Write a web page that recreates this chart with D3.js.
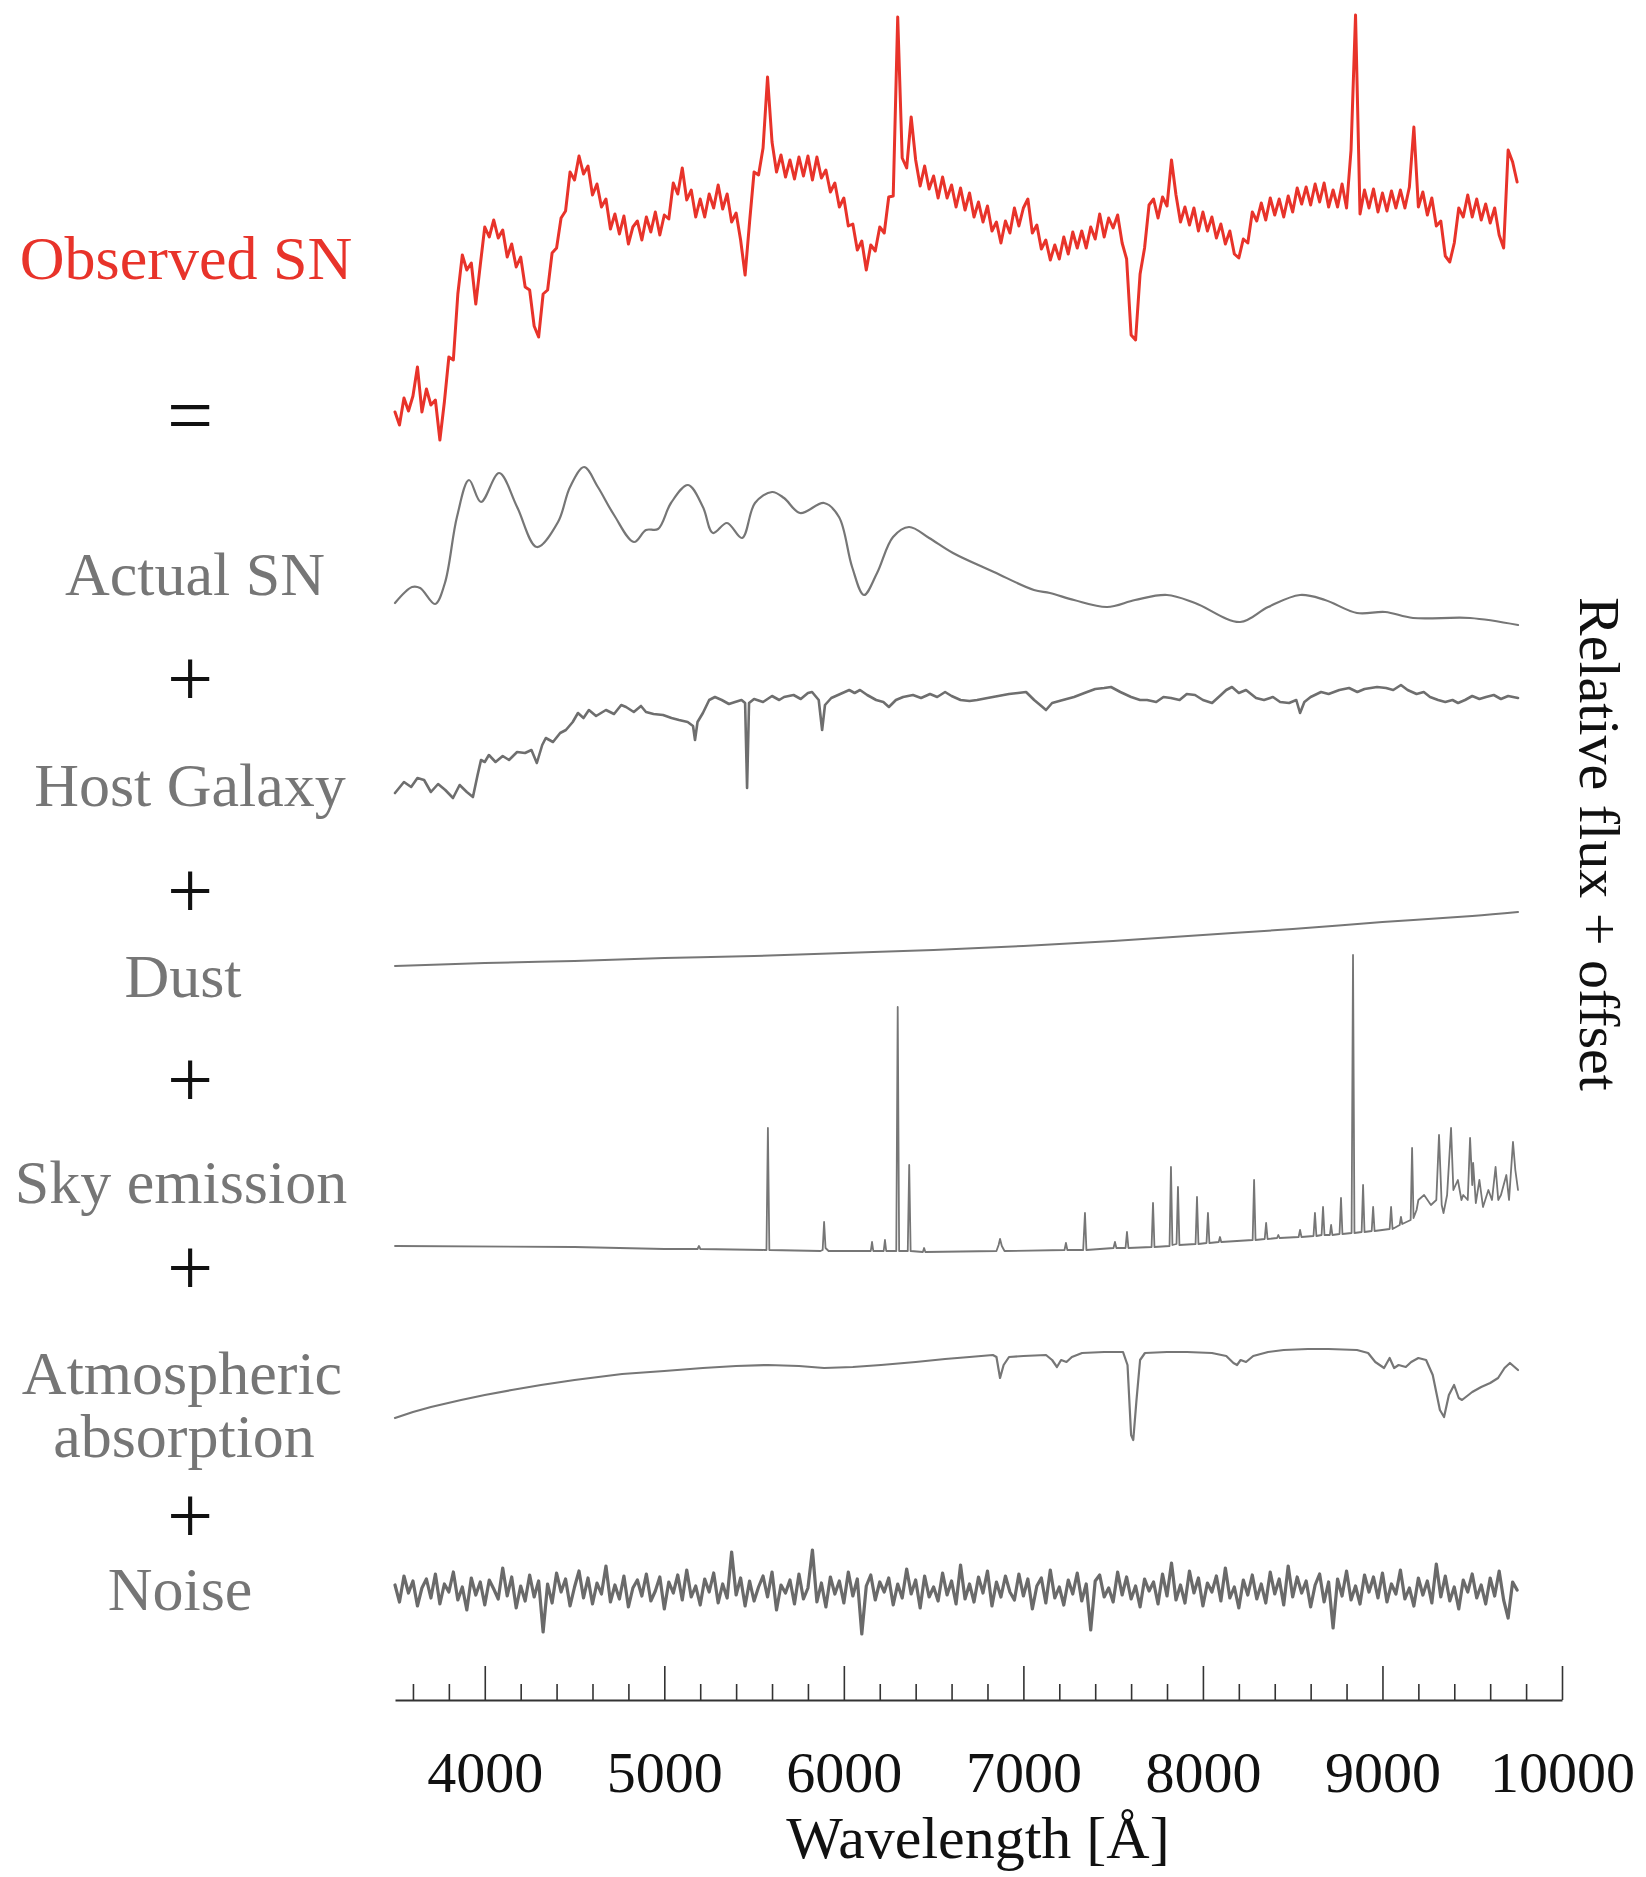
<!DOCTYPE html>
<html><head><meta charset="utf-8">
<script src="https://cdn.jsdelivr.net/npm/d3@7"></script>
<style>html,body{margin:0;padding:0;background:#fff;} svg{display:block;}</style>
</head><body>
<svg id="chart" width="1646" height="1877"></svg>
<script>
// ---------------- DATA ----------------
// Regular wavelength grid (Å) for the densely sampled spectra
const gridStart = 3500, gridStep = 25;

// Observed SN flux (relative units) on the regular grid, 3500–9750 Å
const observedFlux = [
 88,75,102,89,104,133,88,111,95,100,
 60,98,143,140,206,245,230,237,196,235,
 273,263,280,262,270,243,256,233,243,213,
 210,174,163,206,210,247,252,282,289,328,
 320,344,326,334,305,316,293,301,271,286,
 266,284,256,273,279,260,283,268,288,265,
 285,281,317,306,332,300,310,283,301,283,
 306,292,315,291,306,278,287,260,225,278,
 328,325,352,423,358,328,345,323,340,321,
 343,324,344,320,343,322,330,308,317,293,
 302,274,276,250,259,230,255,249,273,267,
 303,304,483,342,332,383,340,314,334,311,
 324,302,323,302,315,293,312,290,307,283,
 298,278,294,269,278,257,279,267,292,274,
 292,301,267,275,251,260,240,255,241,263,
 246,268,252,269,252,273,261,286,263,282,
 272,285,257,241,165,160,226,252,295,301,
 282,303,294,340,305,278,293,275,292,269,
 288,269,283,262,276,256,269,246,242,261,
 257,288,279,297,280,302,285,301,283,304,
 288,312,296,313,295,316,298,317,293,310,
 293,316,292,350,485,286,310,292,311,288,
 307,289,309,292,310,292,313,373,293,308,
 285,302,274,279,244,238,257,292,283,305,
 283,301,280,296,277,292,265,252,350,338,
 318
];

// Noise on the regular grid
const noiseFlux = [
 5,-12,14,-3,9,-16,2,11,-8,16,
 -14,6,-2,18,-10,3,-20,12,-5,8,
 -15,10,1,-9,22,-6,13,-18,4,-11,
 15,-7,9,-42,6,-13,17,-2,11,-16,
 3,19,-8,12,-14,7,-4,24,-12,5,
 -9,14,-17,2,10,-6,16,-11,-1,13,
 -19,8,-3,15,-10,20,-7,4,-15,11,
 -2,17,-13,6,-8,38,-5,12,-16,9,
 -11,3,14,-7,18,-20,5,-3,10,-14,
 16,-9,2,40,-12,7,-17,13,-4,9,
 -13,18,-6,11,-44,4,15,-10,8,-2,
 12,-15,6,-8,21,-4,10,-18,14,-7,
 3,-11,17,-5,9,-14,25,-9,6,-12,
 13,-3,19,-16,8,-7,14,-2,-10,16,
 -6,11,-19,4,12,-13,20,-8,3,-15,
 10,-4,17,-11,6,-40,9,15,-7,2,
 -12,18,-5,13,-9,4,-17,11,-1,8,
 -14,16,-6,27,-10,5,-13,19,-3,12,
 -16,7,-2,14,-11,22,-8,3,-18,10,
 -5,15,-9,6,-13,18,-4,11,-15,24,
 -7,13,-3,9,-17,5,16,-12,8,-38,
 11,-6,19,-10,4,-14,15,-2,13,-8,
 17,-12,6,-4,20,-9,2,-16,12,-5,
 9,-13,26,-7,14,-11,3,-19,10,-2,
 16,-8,5,-14,12,-6,19,-10,-28,8,
 0
];

// Actual SN template [wavelength, flux]
const actualSN = [
 [3500,97],[3595,113],[3640,112],[3723,96],[3778,117],[3845,183],[3912,220],[3979,198],
 [4080,227],[4180,193],[4290,153],[4408,178],[4475,213],[4553,233],[4630,213],[4720,185],
 [4831,158],[4898,170],[4965,171],[5037,197],[5132,215],[5215,193],[5271,167],[5349,177],
 [5433,162],[5505,197],[5600,208],[5667,202],[5756,187],[5890,197],[5973,183],[6046,133],
 [6112,105],[6185,127],[6274,163],[6363,173],[6475,162],[6608,147],[6836,128],[7059,110],
 [7148,107],[7282,100],[7466,93],[7622,100],[7800,105],[7956,97],[8207,78],[8363,93],
 [8541,105],[8680,100],[8858,87],[9015,88],[9170,82],[9488,82],[9755,75]
];

// Host galaxy [wavelength, flux]
const hostGalaxy = [
 [3500,107],[3550,118],[3590,113],[3625,122],[3662,120],[3700,108],[3740,116],[3780,110],
 [3823,102],[3860,115],[3900,108],[3934,103],[3960,125],[3979,140],[4000,138],[4023,145],
 [4060,138],[4100,144],[4135,140],[4180,148],[4224,147],[4260,150],[4290,137],[4320,155],
 [4340,162],[4380,158],[4420,167],[4452,170],[4490,178],[4519,187],[4550,182],[4580,190],
 [4620,184],[4675,190],[4720,186],[4760,195],[4787,193],[4830,188],[4870,194],[4898,188],
 [4940,186],[4993,185],[5040,182],[5082,180],[5130,178],[5160,174],[5171,160],[5185,178],
 [5215,187],[5250,200],[5282,203],[5320,200],[5360,196],[5394,198],[5430,200],[5450,197],
 [5461,112],[5472,197],[5500,201],[5550,198],[5600,204],[5640,200],[5667,203],[5720,205],
 [5760,201],[5800,207],[5823,208],[5860,200],[5879,170],[5895,195],[5930,202],[5980,206],
 [6030,210],[6060,207],[6090,210],[6130,205],[6180,200],[6220,198],[6251,193],[6290,200],
 [6330,203],[6385,205],[6430,202],[6480,206],[6520,203],[6564,208],[6600,204],[6650,200],
 [6700,199],[6742,200],[6800,202],[6860,204],[6920,206],[6970,207],[7015,208],[7060,200],
 [7100,194],[7126,190],[7160,197],[7220,200],[7282,203],[7340,207],[7400,211],[7450,212],
 [7488,213],[7540,208],[7600,203],[7650,200],[7689,200],[7740,198],[7780,203],[7822,202],
 [7870,200],[7910,206],[7956,205],[8000,200],[8051,197],[8100,205],[8130,210],[8162,213],
 [8200,207],[8240,210],[8296,202],[8340,200],[8390,203],[8430,198],[8480,197],[8520,200],
 [8541,187],[8565,198],[8600,203],[8658,208],[8700,206],[8760,210],[8814,212],[8860,208],
 [8900,211],[8970,213],[9020,212],[9060,210],[9103,215],[9140,210],[9190,206],[9230,208],
 [9265,203],[9310,200],[9350,198],[9390,200],[9421,197],[9460,200],[9500,204],[9540,201],
 [9577,203],[9620,205],[9660,201],[9700,204],[9755,202]
];

// Dust reddening curve [wavelength, flux]
const dustCurve = [
 [3500,34],[4000,37],[4500,39],[5000,42],[5500,44],[6000,47],[6500,50],[7000,54],
 [7500,59],[8000,65],[8500,71],[9000,78],[9500,84],[9755,88]
];

// Sky emission [wavelength, flux]
const skyEmission = [
 [3500,54],[4500,53],[5000,51],[5185,51],[5193,54],[5201,51],[5560,50],[5569,50],[5577,172],[5585,50],
 [5870,49],[5882,50],[5890,78],[5898,52],[5915,49],[6150,49],[6157,58],[6164,49],[6222,49],[6229,60],
 [6236,49],[6280,49],[6292,49],[6300,293],[6308,49],[6350,49],[6356,49],[6364,135],[6372,49],[6440,48],
 [6447,52],[6454,48],[6850,49],[6862,55],[6870,61],[6880,54],[6895,49],[7229,50],[7237,57],[7245,50],
 [7333,50],[7343,87],[7351,50],[7502,52],[7510,58],[7518,52],[7569,52],[7577,68],[7585,52],[7714,53],
 [7722,97],[7730,53],[7814,54],[7822,133],[7830,55],[7853,56],[7861,113],[7869,55],[7959,56],[7967,103],
 [7975,56],[8020,57],[8028,87],[8036,57],[8088,58],[8095,63],[8102,58],[8277,60],[8285,120],[8293,60],
 [8344,61],[8352,77],[8360,61],[8413,62],[8420,65],[8427,62],[8533,63],[8541,70],[8549,63],[8616,64],
 [8624,87],[8632,64],[8661,65],[8669,93],[8677,65],[8707,65],[8714,75],[8721,65],[8761,66],[8769,102],
 [8777,66],[8828,67],[8836,345],[8844,67],[8884,68],[8892,115],[8900,68],[8940,69],[8948,93],[8956,69],
 [9040,71],[9048,93],[9056,71],[9096,75],[9103,83],[9110,76],[9157,80],[9165,152],[9173,82],[9190,90],
 [9200,100],[9232,105],[9270,95],[9300,100],[9315,165],[9330,95],[9340,87],[9360,105],[9382,172],[9395,110],
 [9420,120],[9440,100],[9450,105],[9475,100],[9488,162],[9500,115],[9505,137],[9520,97],[9540,120],[9560,93],
 [9590,110],[9610,100],[9630,133],[9645,100],[9660,105],[9690,125],[9705,100],[9727,158],[9740,130],[9755,110]
];

// Atmospheric transmission [wavelength, flux]
const atmAbsorption = [
 [3500,32],[3600,38],[3700,43],[3868,50],[4000,55],[4150,60],[4313,65],[4500,70],[4765,76],[5000,79],
 [5215,82],[5400,84],[5577,85],[5750,84],[5890,82],[6050,83],[6207,85],[6400,88],[6564,91],[6700,93],
 [6830,95],[6850,93],[6870,72],[6890,85],[6920,93],[7000,94],[7126,95],[7160,90],[7187,83],[7210,90],
 [7240,88],[7270,93],[7327,97],[7450,98],[7555,98],[7580,85],[7600,15],[7612,10],[7630,50],[7650,90],
 [7677,97],[7800,98],[7911,98],[8050,97],[8130,94],[8170,87],[8190,85],[8210,90],[8240,88],[8280,94],
 [8363,98],[8450,100],[8585,101],[8700,101],[8858,100],[8920,97],[8960,88],[9009,82],[9040,92],[9065,82],
 [9090,85],[9130,83],[9160,88],[9200,92],[9243,90],[9280,75],[9320,40],[9343,33],[9370,55],[9399,65],
 [9425,52],[9443,50],[9500,58],[9550,63],[9600,67],[9644,72],[9680,82],[9710,87],[9755,80]
];

// Vertical offsets of each component (relative flux + offset)
const seriesNames   = ["Observed SN","Actual SN","Host Galaxy","Dust","Sky emission","Atmospheric absorption","Noise"];
const seriesOffsets = [1200, 1000, 800, 700, 400, 250, 110];

const xTickValues = [4000,5000,6000,7000,8000,9000,10000];
const xMinorTickValues = [3600,3800,4200,4400,4600,4800,5200,5400,5600,5800,6200,6400,6600,6800,
  7200,7400,7600,7800,8200,8400,8600,8800,9200,9400,9600,9800];
const xAxisTitle = "Wavelength [Å]";
const yAxisTitle = "Relative flux + offset";

// ---------------- DRAWING ----------------
const RED = "#e8332a", GRAY = "#767676", FONT = "'Liberation Serif','DejaVu Serif',serif";
const svg = d3.select("#chart");
svg.append("rect").attr("width",1646).attr("height",1877).attr("fill","#fff");

const x = d3.scaleLinear().domain([3500,10000]).range([395,1562]);
const y = d3.scaleLinear().domain([0,1700]).range([1700,0]);

const onGrid = arr => arr.map((v,i)=>[gridStart + i*gridStep, v]);
const mkLine = (off, curve) => d3.line().x(d=>x(d[0])).y(d=>y(d[1]+off)).curve(curve || d3.curveLinear);

const g = svg.append("g").attr("fill","none").attr("stroke-linejoin","round").attr("stroke-linecap","round");
g.append("path").attr("d", mkLine(seriesOffsets[0])(onGrid(observedFlux))).attr("stroke",RED).attr("stroke-width",3);
g.append("path").attr("d", mkLine(seriesOffsets[1], d3.curveCatmullRom.alpha(0.5))(actualSN)).attr("stroke",GRAY).attr("stroke-width",2.2);
g.append("path").attr("d", mkLine(seriesOffsets[2])(hostGalaxy)).attr("stroke","#6e6e6e").attr("stroke-width",2.6);
g.append("path").attr("d", mkLine(seriesOffsets[3], d3.curveCatmullRom.alpha(0.5))(dustCurve)).attr("stroke",GRAY).attr("stroke-width",2);
g.append("path").attr("d", mkLine(seriesOffsets[4])(skyEmission)).attr("stroke",GRAY).attr("stroke-width",1.8);
g.append("path").attr("d", mkLine(seriesOffsets[5])(atmAbsorption)).attr("stroke",GRAY).attr("stroke-width",2.2);
g.append("path").attr("d", mkLine(seriesOffsets[6])(onGrid(noiseFlux))).attr("stroke","#6a6a6a").attr("stroke-width",3.2);

// X axis: minor ticks + baseline
const axMinor = svg.append("g").attr("transform","translate(0,1700)")
  .call(d3.axisBottom(x).tickValues(xMinorTickValues).tickSizeInner(-16).tickSizeOuter(0).tickFormat(""));
axMinor.select(".domain").attr("stroke","#333").attr("stroke-width",2);
axMinor.selectAll(".tick line").attr("stroke","#333").attr("stroke-width",1.6);
// major ticks + labels
const axMajor = svg.append("g").attr("transform","translate(0,1700)")
  .call(d3.axisBottom(x).tickValues(xTickValues).tickSizeInner(-34).tickSizeOuter(0).tickPadding(51).tickFormat(d3.format("d")));
axMajor.select(".domain").remove();
axMajor.selectAll(".tick line").attr("stroke","#333").attr("stroke-width",1.6);
axMajor.selectAll(".tick text").attr("font-family",FONT).attr("font-size",58).attr("fill","#111");

svg.append("text").attr("x",978).attr("y",1858).attr("text-anchor","middle")
  .attr("font-family",FONT).attr("font-size",60).attr("fill","#111").text(xAxisTitle);
svg.append("text").attr("transform","translate(1580,844) rotate(90)").attr("text-anchor","middle")
  .attr("font-family",FONT).attr("font-size",58).attr("fill","#111").text(yAxisTitle);

// Left-hand component labels (layout)
const labelLayout = [
  {t:seriesNames[0], x:186, y:279, c:RED},
  {t:seriesNames[1], x:195, y:595, c:GRAY},
  {t:seriesNames[2], x:190, y:806, c:GRAY},
  {t:seriesNames[3], x:183, y:997, c:GRAY},
  {t:seriesNames[4], x:181, y:1203, c:GRAY},
  {t:"Atmospheric", x:182, y:1394, c:GRAY},
  {t:"absorption", x:184, y:1457, c:GRAY},
  {t:seriesNames[6], x:180, y:1610, c:GRAY}
];
svg.append("g").selectAll("text").data(labelLayout).join("text")
  .attr("x",d=>d.x).attr("y",d=>d.y).attr("text-anchor","middle")
  .attr("font-family",FONT).attr("font-size",62).attr("fill",d=>d.c).text(d=>d.t);

const opLayout = [{t:"=",y:417},{t:"+",y:680},{t:"+",y:892},{t:"+",y:1081},{t:"+",y:1269},{t:"+",y:1517}];
svg.append("g").selectAll("text").data(opLayout).join("text")
  .attr("x",190).attr("y",d=>d.y).attr("dy","0.32em").attr("text-anchor","middle")
  .attr("font-family",FONT).attr("font-size",82).attr("fill","#111").text(d=>d.t);
</script>
</body></html>
